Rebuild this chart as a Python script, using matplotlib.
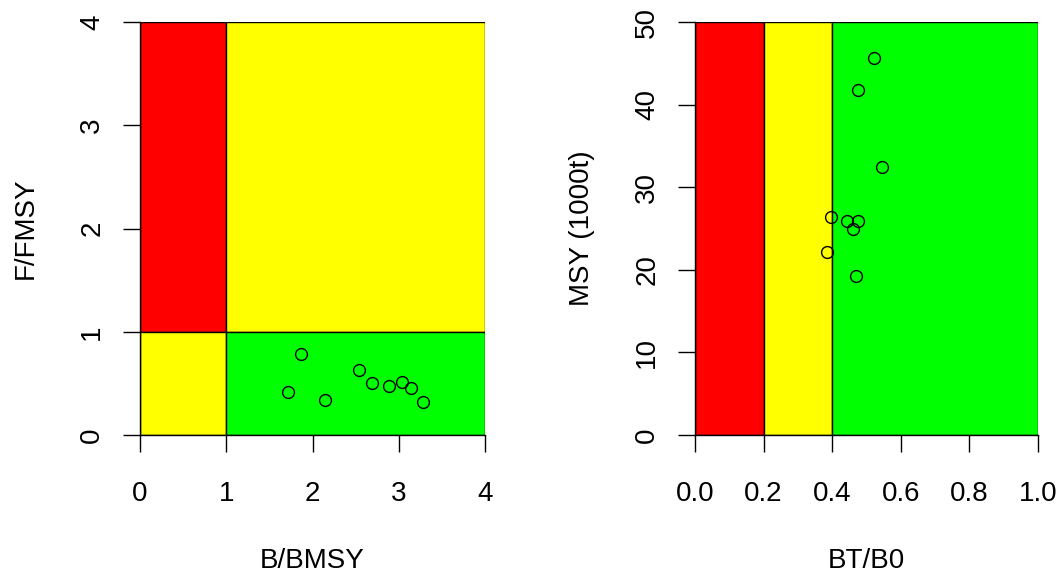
import matplotlib
matplotlib.use("Agg")
import matplotlib.pyplot as plt
from matplotlib.patches import Rectangle

plt.rcParams['font.family'] = ['Liberation Sans', 'DejaVu Sans']

# kobe-style panel: B/BMSY vs F/FMSY
b_bmsy = [1.87, 1.72, 2.15, 2.54, 2.69, 2.89, 3.04, 3.14, 3.28]
f_fmsy = [0.78, 0.42, 0.34, 0.63, 0.50, 0.47, 0.51, 0.46, 0.32]

# depletion vs MSY panel
bt_b0 = [0.521, 0.475, 0.545, 0.397, 0.443, 0.476, 0.462, 0.384, 0.469]
msy = [45.6, 41.8, 32.4, 26.4, 25.9, 25.9, 24.9, 22.1, 19.3]

left_ticks = [0, 1, 2, 3, 4]
msy_ticks = [0, 10, 20, 30, 40, 50]
bt_ticks = [0.0, 0.2, 0.4, 0.6, 0.8, 1.0]

RED = '#FF0000'
YEL = '#FFFF00'
GRN = '#00FF00'

fig = plt.figure(figsize=(10.63, 5.77), dpi=100)
H = 577.0
W = 1063.0
ax1 = fig.add_axes([140 / W, (H - 435) / H, 345 / W, 413 / H])
ax2 = fig.add_axes([695 / W, (H - 435) / H, 343 / W, 413 / H])


def style(ax):
    for s in ['top', 'right']:
        ax.spines[s].set_visible(False)
    for s in ['left', 'bottom']:
        ax.spines[s].set_linewidth(1.0)
    ax.tick_params(direction='out', length=12, width=1.0, labelsize=20)
    ax.tick_params(axis='x', pad=21)
    ax.tick_params(axis='y', pad=13)
    for lab in ax.get_yticklabels():
        lab.set_rotation(90)
        lab.set_va('center')


def box(ax, x0, x1, y0, y1, c):
    ax.add_patch(Rectangle((x0, y0), x1 - x0, y1 - y0, facecolor=c,
                           edgecolor='black', linewidth=1.0, zorder=1))


# left panel
box(ax1, 0, 1, 1, 4, RED)
box(ax1, 1, 4, 1, 4, YEL)
box(ax1, 0, 1, 0, 1, YEL)
box(ax1, 1, 4, 0, 1, GRN)
ax1.plot(b_bmsy, f_fmsy, 'o', mfc='none', mec='black', ms=8.5, mew=1.0, zorder=3)
ax1.set_xlim(0, 4)
ax1.set_ylim(0, 4)
ax1.set_xticks(left_ticks)
ax1.set_yticks(left_ticks)
style(ax1)
ax1.set_xlabel('B/BMSY', fontsize=20, labelpad=30)
ax1.set_ylabel('F/FMSY', fontsize=20, labelpad=29)

# right panel
box(ax2, 0.0, 0.2, 0, 50, RED)
box(ax2, 0.2, 0.4, 0, 50, YEL)
box(ax2, 0.4, 1.0, 0, 50, GRN)
ax2.plot(bt_b0, msy, 'o', mfc='none', mec='black', ms=8.5, mew=1.0, zorder=3)
ax2.set_xlim(0, 1)
ax2.set_ylim(0, 50)
ax2.set_xticks(bt_ticks)
ax2.set_xticklabels([f'{t:.1f}' for t in bt_ticks])
ax2.set_yticks(msy_ticks)
style(ax2)
ax2.set_xlabel('BT/B0', fontsize=20, labelpad=30)
ax2.set_ylabel('MSY (1000t)', fontsize=20, labelpad=28)

fig.savefig('out.png', dpi=100)
